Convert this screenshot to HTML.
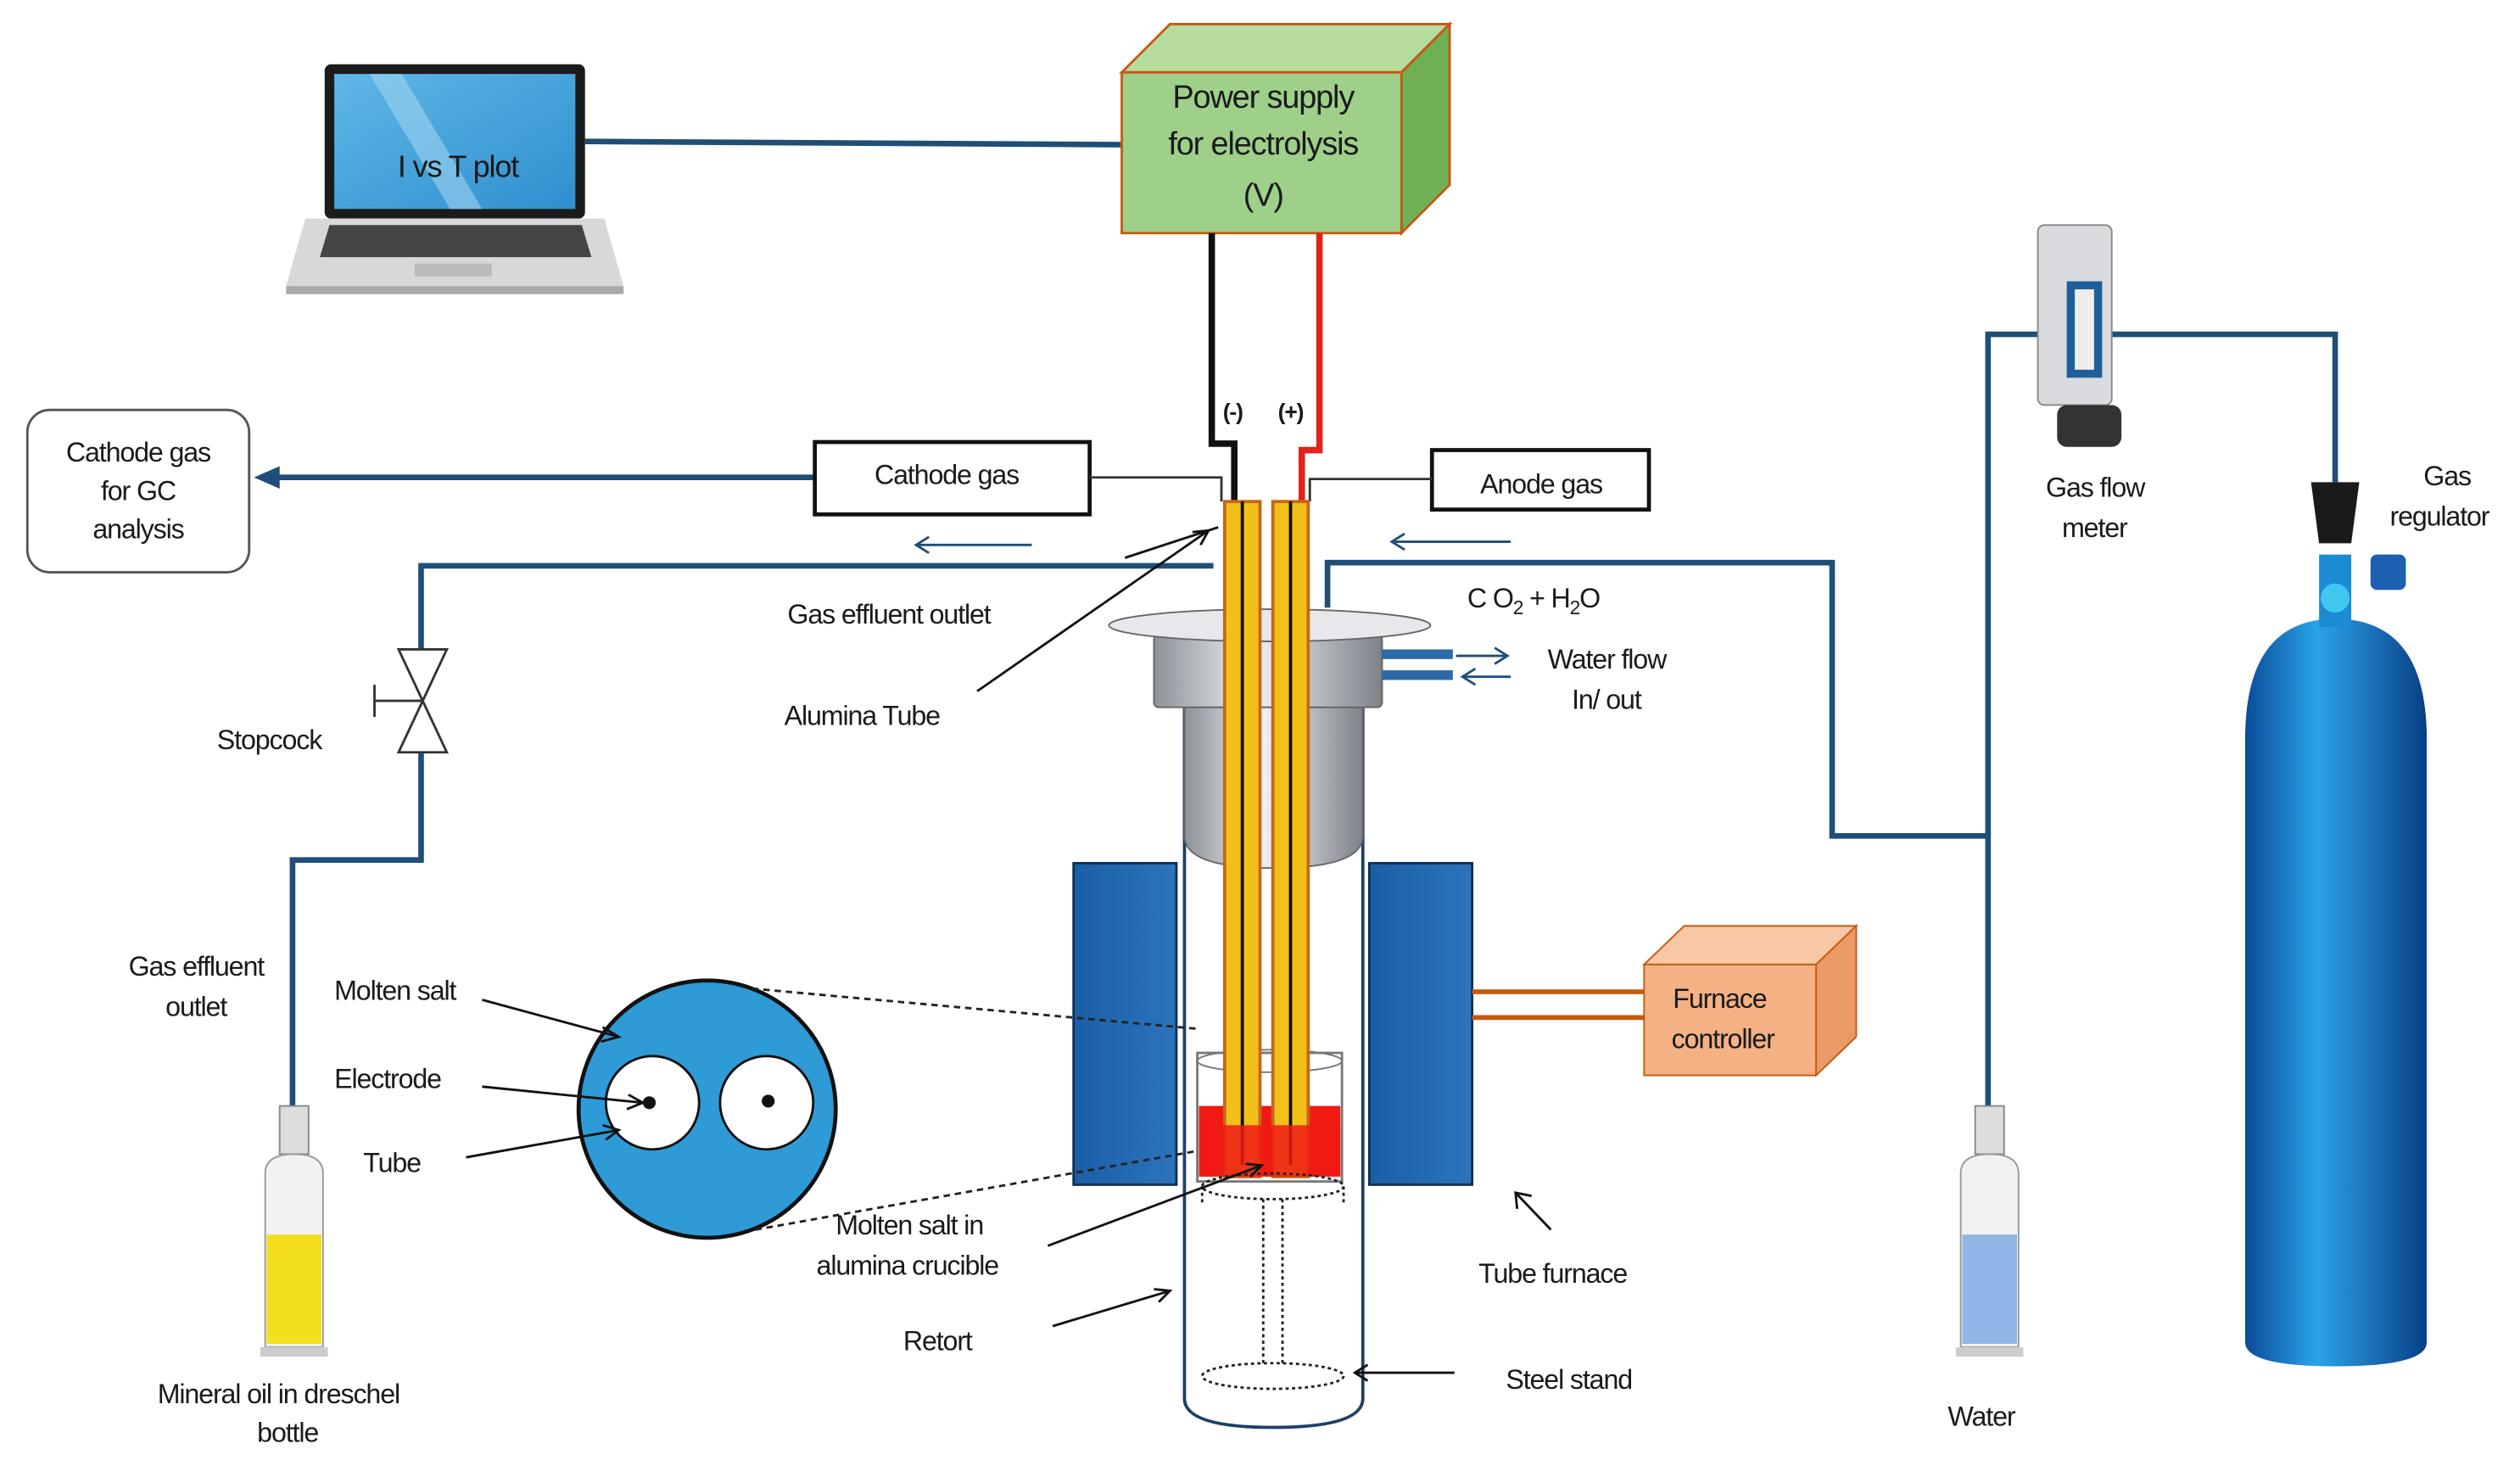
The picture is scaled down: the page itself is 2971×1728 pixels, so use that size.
<!DOCTYPE html>
<html><head><meta charset="utf-8"><style>
html,body{margin:0;padding:0;background:#fff;}
svg{display:block;}
text{font-family:"Liberation Sans",sans-serif;fill:#1a1a1a;letter-spacing:-0.6px;}
</style></head><body>
<svg width="2971" height="1728" viewBox="0 0 1568 912" xmlns="http://www.w3.org/2000/svg">
<defs>
<linearGradient id="gr" x1="0" x2="1"><stop offset="0" stop-color="#8e9299"/><stop offset="0.45" stop-color="#eef0f3"/><stop offset="1" stop-color="#7d8188"/></linearGradient>
<linearGradient id="cyl" x1="0" x2="1"><stop offset="0" stop-color="#0b4c9a"/><stop offset="0.4" stop-color="#2aa3e8"/><stop offset="1" stop-color="#093f86"/></linearGradient>
<linearGradient id="scr" x1="0" x2="1" y1="0" y2="1"><stop offset="0" stop-color="#5fb7e6"/><stop offset="1" stop-color="#2f8fcf"/></linearGradient>
<linearGradient id="fur" x1="0" x2="1"><stop offset="0" stop-color="#1a5ea6"/><stop offset="1" stop-color="#2c74bd"/></linearGradient>
</defs>

<!-- laptop -->
<rect x="202" y="40" width="162" height="96" rx="4" fill="#1b1b1b"/>
<rect x="208" y="46" width="150" height="84" fill="url(#scr)"/>
<polygon points="230,46 250,46 300,130 280,130" fill="#9fd3f0" opacity="0.6"/>
<polygon points="190,136 376,136 388,178 178,178" fill="#d8d8d8"/>
<polygon points="205,140 362,140 368,160 199,160" fill="#444"/>
<rect x="258" y="164" width="48" height="8" fill="#bbb"/>
<rect x="178" y="178" width="210" height="5" fill="#a9a9a9"/>
<text x="285" y="110" font-size="19" text-anchor="middle">I vs T plot</text>

<!-- lines -->
<g stroke="#1f4e79" stroke-width="3.5" fill="none">
<line x1="364" y1="88" x2="700" y2="90"/>
<polyline points="755,352 262,352 262,405"/>
<polyline points="262,468 262,535 182,535 182,690"/>
<polyline points="826,378 826,350 1140,350 1140,520 1237,520 1237,690"/>
<polyline points="1237,520 1237,208 1272,208"/>
<polyline points="1310,208 1453,208 1453,300"/>
<line x1="507" y1="297" x2="170" y2="297"/>
</g>
<polygon points="158,297 174,290 174,304" fill="#1f4e79"/>

<!-- power supply -->
<polygon points="698,45 728,15 902,15 872,45" fill="#b6dca0" stroke="#c55a11" stroke-width="1.5"/>
<polygon points="872,45 902,15 902,115 872,145" fill="#6fb054" stroke="#c55a11" stroke-width="1.5"/>
<rect x="698" y="45" width="174" height="100" fill="#9ed08a" stroke="#c55a11" stroke-width="1.5"/>
<text x="786" y="67" font-size="20" text-anchor="middle">Power supply</text>
<text x="786" y="96" font-size="20" text-anchor="middle">for electrolysis</text>
<text x="786" y="128" font-size="20" text-anchor="middle">(V)</text>

<!-- wires -->
<polyline points="754,145 754,276 768,276 768,312" stroke="#111" stroke-width="4" fill="none"/>
<polyline points="821,145 821,280 810,280 810,312" stroke="#e0231b" stroke-width="4" fill="none"/>
<text x="767" y="261" font-size="14" font-weight="bold" text-anchor="middle">(-)</text>
<text x="803" y="261" font-size="14" font-weight="bold" text-anchor="middle">(+)</text>

<!-- cathode/anode boxes -->
<rect x="507" y="275" width="171" height="45" fill="#fff" stroke="#111" stroke-width="2.5"/>
<text x="589" y="301" font-size="17" text-anchor="middle">Cathode gas</text>
<polyline points="678,297 760,297 760,312" stroke="#333" stroke-width="1.5" fill="none"/>
<rect x="891" y="280" width="135" height="37" fill="#fff" stroke="#111" stroke-width="2.5"/>
<text x="959" y="307" font-size="17" text-anchor="middle">Anode gas</text>
<polyline points="891,298 815,298 815,312" stroke="#333" stroke-width="1.5" fill="none"/>
<rect x="17" y="255" width="138" height="101" rx="14" fill="#fff" stroke="#555" stroke-width="1.5"/>
<text x="86" y="287" font-size="17" text-anchor="middle">Cathode gas</text>
<text x="86" y="311" font-size="17" text-anchor="middle">for GC</text>
<text x="86" y="335" font-size="17" text-anchor="middle">analysis</text>

<!-- thin arrows -->
<g stroke="#1f4e79" stroke-width="1.5" fill="none">
<line x1="570" y1="339" x2="642" y2="339"/><polyline points="578,334 570,339 578,344"/>
<line x1="866" y1="337" x2="940" y2="337"/><polyline points="874,332 866,337 874,342"/>
<line x1="906" y1="408" x2="938" y2="408"/><polyline points="930,403 938,408 930,413"/>
<line x1="910" y1="421" x2="940" y2="421"/><polyline points="918,416 910,421 918,426"/>
</g>

<!-- furnace -->
<rect x="668" y="537" width="64" height="200" fill="url(#fur)" stroke="#0d2f57" stroke-width="1.5"/>
<rect x="852" y="537" width="64" height="200" fill="url(#fur)" stroke="#0d2f57" stroke-width="1.5"/>
<line x1="916" y1="617" x2="1024" y2="617" stroke="#c55a11" stroke-width="3"/>
<line x1="916" y1="633" x2="1024" y2="633" stroke="#c55a11" stroke-width="3"/>
<polygon points="1023,600 1048,576 1155,576 1130,600" fill="#f8c8a4" stroke="#c55a11"/>
<polygon points="1130,600 1155,576 1155,645 1130,669" fill="#e99a66" stroke="#c55a11"/>
<rect x="1023" y="600" width="107" height="69" fill="#f4b183" stroke="#c55a11"/>
<text x="1070" y="627" font-size="17" text-anchor="middle">Furnace</text>
<text x="1072" y="652" font-size="17" text-anchor="middle">controller</text>

<!-- retort -->
<path d="M737,440 L737,870 Q737,888 792,888 Q848,888 848,870 L848,440" fill="#fff" stroke="#1f3f66" stroke-width="2"/>
<path d="M737,440 L848,440 L848,520 Q848,540 792,540 Q737,540 737,520 Z" fill="url(#gr)" stroke="#666"/>
<rect x="718" y="395" width="142" height="45" rx="3" fill="url(#gr)" stroke="#666"/>
<ellipse cx="790" cy="389" rx="100" ry="10" fill="#e6e8eb" stroke="#666"/>
<rect x="860" y="404" width="44" height="6" fill="#2c6aa8"/>
<rect x="860" y="417" width="44" height="6" fill="#2c6aa8"/>

<!-- crucible -->
<rect x="745" y="655" width="90" height="80" fill="none" stroke="#777" stroke-width="1.5"/>
<ellipse cx="790" cy="660" rx="45" ry="7" fill="none" stroke="#777"/>
<rect x="746" y="688" width="88" height="44" fill="#f01a14"/>
<!-- tubes -->
<rect x="762" y="312" width="22" height="420" fill="#f2c018" stroke="#c8661a" stroke-width="2"/>
<rect x="792" y="312" width="22" height="420" fill="#f2c018" stroke="#c8661a" stroke-width="2"/>
<line x1="773" y1="312" x2="773" y2="725" stroke="#111" stroke-width="2"/>
<line x1="803" y1="312" x2="803" y2="725" stroke="#111" stroke-width="2"/>
<rect x="746" y="700" width="88" height="32" fill="#f01a14" opacity="0.85"/>
<!-- stand -->
<g stroke="#222" stroke-width="1.5" stroke-dasharray="2,2" fill="none">
<ellipse cx="792" cy="738" rx="44" ry="8"/>
<ellipse cx="792" cy="856" rx="44" ry="8"/>
<line x1="786" y1="746" x2="786" y2="850"/><line x1="798" y1="746" x2="798" y2="850"/>
<line x1="748" y1="738" x2="748" y2="748"/><line x1="836" y1="738" x2="836" y2="748"/>
</g>

<!-- magnified circle -->
<circle cx="440" cy="690" r="80" fill="#2e9bd6" stroke="#111" stroke-width="2.5"/>
<circle cx="406" cy="686" r="29" fill="#fff" stroke="#111" stroke-width="1.5"/>
<circle cx="477" cy="686" r="29" fill="#fff" stroke="#111" stroke-width="1.5"/>
<circle cx="404" cy="686" r="4" fill="#111"/>
<circle cx="478" cy="685" r="4" fill="#111"/>
<line x1="468" y1="615" x2="745" y2="640" stroke="#222" stroke-width="1.5" stroke-dasharray="4,3"/>
<line x1="470" y1="765" x2="745" y2="716" stroke="#222" stroke-width="1.5" stroke-dasharray="4,3"/>

<!-- stopcock -->
<polygon points="248,404 278,404 263,436" fill="#fff" stroke="#333" stroke-width="1.5"/>
<polygon points="248,468 278,468 263,436" fill="#fff" stroke="#333" stroke-width="1.5"/>
<line x1="233" y1="436" x2="263" y2="436" stroke="#333" stroke-width="1.5"/>
<line x1="233" y1="426" x2="233" y2="446" stroke="#333" stroke-width="1.5"/>

<!-- bottles -->
<g>
<rect x="174" y="688" width="18" height="30" fill="#ddd" stroke="#888"/>
<path d="M165,730 Q165,718 183,718 Q201,718 201,730 L201,838 L165,838 Z" fill="#f2f2f2" stroke="#999"/>
<rect x="166" y="768" width="34" height="68" fill="#f3df1e"/>
<rect x="162" y="838" width="42" height="6" fill="#ccc"/>
<rect x="1229" y="688" width="18" height="30" fill="#ddd" stroke="#888"/>
<path d="M1220,730 Q1220,718 1238,718 Q1256,718 1256,730 L1256,838 L1220,838 Z" fill="#f2f2f2" stroke="#999"/>
<rect x="1221" y="768" width="34" height="68" fill="#8fb6e6"/>
<rect x="1217" y="838" width="42" height="6" fill="#ccc"/>
</g>

<!-- flow meter -->
<rect x="1268" y="140" width="46" height="112" rx="4" fill="#d9dbde" stroke="#888"/>
<rect x="1286" y="175" width="22" height="60" fill="#1e5f9a"/>
<rect x="1291" y="180" width="12" height="50" fill="#eee"/>
<rect x="1280" y="252" width="40" height="26" rx="6" fill="#333"/>

<!-- cylinder -->
<path d="M1397,460 Q1397,385 1453,385 Q1510,385 1510,460 L1510,835 Q1510,850 1453,850 Q1397,850 1397,835 Z" fill="url(#cyl)"/>
<rect x="1443" y="345" width="20" height="45" fill="#1b8bd3"/>
<circle cx="1453" cy="372" r="9" fill="#3fc7f0"/>
<rect x="1475" y="345" width="22" height="22" rx="4" fill="#1d5fb0"/>
<path d="M1438,300 L1468,300 L1463,338 L1443,338 Z" fill="#1a1a1a"/>

<!-- labels -->
<g font-size="17">
<text x="490" y="388">Gas effluent outlet</text>
<text x="488" y="451">Alumina Tube</text>
<text x="913" y="378">C O<tspan font-size="12" dy="4">2</tspan><tspan dy="-4"> + H</tspan><tspan font-size="12" dy="4">2</tspan><tspan dy="-4">O</tspan></text>
<text x="963" y="416">Water flow</text>
<text x="978" y="441">In/ out</text>
<text x="135" y="466">Stopcock</text>
<text x="80" y="607">Gas effluent</text>
<text x="103" y="632">outlet</text>
<text x="208" y="622">Molten salt</text>
<text x="208" y="677">Electrode</text>
<text x="226" y="729">Tube</text>
<text x="520" y="768">Molten salt in</text>
<text x="508" y="793">alumina crucible</text>
<text x="562" y="840">Retort</text>
<text x="920" y="798">Tube furnace</text>
<text x="937" y="864">Steel stand</text>
<text x="98" y="873">Mineral oil in dreschel</text>
<text x="160" y="897">bottle</text>
<text x="1212" y="887">Water</text>
<text x="1273" y="309">Gas flow</text>
<text x="1283" y="334">meter</text>
<text x="1508" y="302">Gas</text>
<text x="1487" y="327">regulator</text>
</g>

<!-- pointer lines -->
<g stroke="#111" stroke-width="1.5" fill="none">
<line x1="608" y1="430" x2="752" y2="330"/><polyline points="742,331 752,330 747,339"/>
<line x1="700" y1="347" x2="758" y2="328"/>
<line x1="300" y1="622" x2="385" y2="645"/><polyline points="375,639 385,645 374,648"/>
<line x1="300" y1="676" x2="400" y2="686"/><polyline points="391,681 400,686 390,690"/>
<line x1="290" y1="720" x2="385" y2="703"/><polyline points="375,700 385,703 377,709"/>
<line x1="652" y1="775" x2="785" y2="725"/><polyline points="775,724 785,725 778,732"/>
<line x1="655" y1="825" x2="728" y2="803"/><polyline points="718,802 728,803 721,810"/>
<line x1="965" y1="765" x2="943" y2="742"/><polyline points="944,752 943,742 953,744"/>
<line x1="905" y1="854" x2="843" y2="854"/><polyline points="851,849 843,854 851,859"/>
</g>
</svg>
</body></html>
